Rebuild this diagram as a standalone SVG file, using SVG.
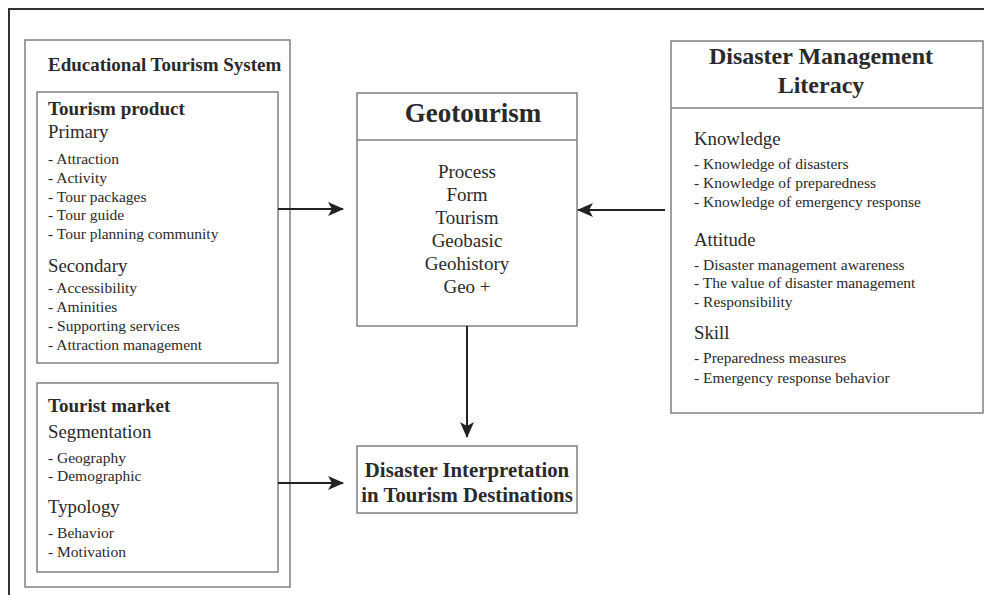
<svg xmlns="http://www.w3.org/2000/svg" width="984" height="595" viewBox="0 0 984 595">
<defs>
<style>
.box{fill:#fff;stroke:#808080;stroke-width:1.5}
.frame{fill:none;stroke:#333;stroke-width:2}
.t{font-family:"Liberation Serif","Times New Roman",serif;fill:#2a2a2a}
.h{font-weight:bold;font-size:19px}
.hb{font-weight:bold;font-size:19px}
.sub{font-size:18.8px}
.it{font-size:15.5px}
.gi{font-size:19px;text-anchor:middle}
.big{font-weight:bold;font-size:24px;text-anchor:middle}
.geo{font-weight:bold;font-size:27px;text-anchor:middle}
.dt{font-weight:bold;font-size:20.8px;text-anchor:middle}
.conn{stroke:#222;stroke-width:2;fill:none}
</style>
<marker id="ah" markerWidth="16" markerHeight="14" refX="15" refY="7" orient="auto" markerUnits="userSpaceOnUse">
<path d="M0,0 L16,7 L0,14 L4,7 Z" fill="#222"/>
</marker>
</defs>
<rect width="984" height="595" fill="#fff"/>
<rect class="frame" x="9" y="9" width="1000" height="620"/>

<g id="educational-tourism-system">
<rect class="box" x="25" y="40" width="265" height="547"/>
<text class="t h" x="48" y="71">Educational Tourism System</text>
</g>

<g id="tourism-product">
<rect class="box" x="37" y="92" width="241" height="271"/>
<text class="t hb" x="48" y="115">Tourism product</text>
<text class="t sub" x="48" y="138">Primary</text>
<text class="t it" x="48" y="164">- Attraction</text>
<text class="t it" x="48" y="183">- Activity</text>
<text class="t it" x="48" y="202">- Tour packages</text>
<text class="t it" x="48" y="220">- Tour guide</text>
<text class="t it" x="48" y="239">- Tour planning community</text>
<text class="t sub" x="48" y="272">Secondary</text>
<text class="t it" x="48" y="293">- Accessibility</text>
<text class="t it" x="48" y="312">- Aminities</text>
<text class="t it" x="48" y="331">- Supporting services</text>
<text class="t it" x="48" y="350">- Attraction management</text>
</g>

<g id="tourist-market">
<rect class="box" x="37" y="383" width="241" height="189"/>
<text class="t hb" x="48" y="412">Tourist market</text>
<text class="t sub" x="48" y="438">Segmentation</text>
<text class="t it" x="48" y="463">- Geography</text>
<text class="t it" x="48" y="481">- Demographic</text>
<text class="t sub" x="48" y="513">Typology</text>
<text class="t it" x="48" y="538">- Behavior</text>
<text class="t it" x="48" y="557">- Motivation</text>
</g>

<g id="geotourism">
<rect class="box" x="357" y="93" width="220" height="233"/>
<line class="box" x1="357" y1="140" x2="577" y2="140"/>
<text class="t geo" x="473" y="122">Geotourism</text>
<text class="t gi" x="467" y="178">Process</text>
<text class="t gi" x="467" y="201">Form</text>
<text class="t gi" x="467" y="224">Tourism</text>
<text class="t gi" x="467" y="247">Geobasic</text>
<text class="t gi" x="467" y="270">Geohistory</text>
<text class="t gi" x="467" y="293">Geo +</text>
</g>

<g id="disaster-interpretation">
<rect class="box" x="357" y="446" width="220" height="67"/>
<text class="t dt" x="467" y="477">Disaster Interpretation</text>
<text class="t dt" x="467" y="502">in Tourism Destinations</text>
</g>

<g id="disaster-management-literacy">
<rect class="box" x="671" y="41" width="312" height="372"/>
<line class="box" x1="671" y1="108" x2="983" y2="108"/>
<text class="t big" x="821" y="64">Disaster Management</text>
<text class="t big" x="821" y="93">Literacy</text>
<text class="t sub" x="694" y="145">Knowledge</text>
<text class="t it" x="694" y="169">- Knowledge of disasters</text>
<text class="t it" x="694" y="188">- Knowledge of preparedness</text>
<text class="t it" x="694" y="207">- Knowledge of emergency response</text>
<text class="t sub" x="694" y="246">Attitude</text>
<text class="t it" x="694" y="270">- Disaster management awareness</text>
<text class="t it" x="694" y="288">- The value of disaster management</text>
<text class="t it" x="694" y="307">- Responsibility</text>
<text class="t sub" x="694" y="339">Skill</text>
<text class="t it" x="694" y="363">- Preparedness measures</text>
<text class="t it" x="694" y="383">- Emergency response behavior</text>
</g>

<g id="connectors">
<line class="conn" x1="278" y1="209" x2="343" y2="209" marker-end="url(#ah)"/>
<line class="conn" x1="665" y1="210" x2="578" y2="210" marker-end="url(#ah)"/>
<line class="conn" x1="467" y1="326" x2="467" y2="437" marker-end="url(#ah)"/>
<line class="conn" x1="278" y1="483" x2="343" y2="483" marker-end="url(#ah)"/>
</g>
</svg>
